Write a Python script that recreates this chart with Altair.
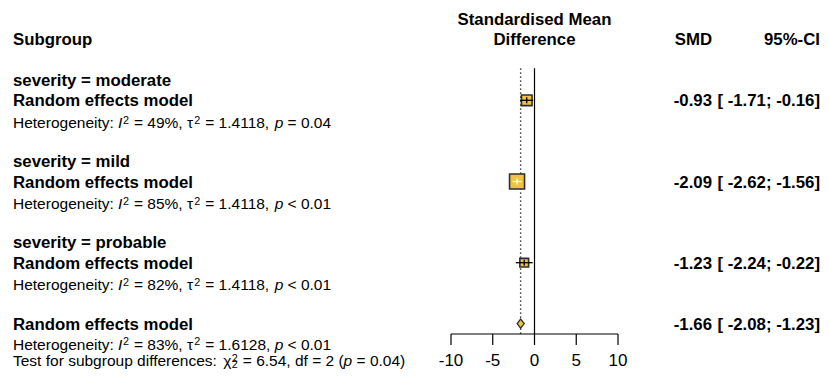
import altair as alt
import pandas as pd

# ---------------- data ----------------
subgroups = ["severity = moderate", "severity = mild", "severity = probable"]
smd = [-0.93, -2.09, -1.23]
ci_lower = [-1.71, -2.62, -2.24]
ci_upper = [-0.16, -1.56, -0.22]
weights = [0.50, 1.0, 0.34]          # relative weight -> square area
i2 = ["49%", "85%", "82%"]
tau2 = ["1.4118", "1.4118", "1.4118"]
pval = ["= 0.04", "< 0.01", "< 0.01"]

overall_smd = -1.66
overall_lower = -2.08
overall_upper = -1.23
overall_i2 = "83%"
overall_tau2 = "1.6128"
overall_p = "< 0.01"
test_chi2 = "6.54"
test_df = "2"
test_p = "= 0.04"

axis_ticks = [-10, -5, 0, 5, 10]

# ---------------- layout ----------------
GOLD = "#F0C43C"
EDGE = "#2e2e2e"
BOLD = 16.8
REG = 15.5
SCRIPT = 10.8
FONT = "Liberation Sans"
ROWPX = 20.3
SUP_RAISE_T = 4.6
SUB_DROP_T = 1.6

X = alt.Scale(domain=[-10, 10], range=[443, 610])
Y = alt.Scale(domain=[0, 14], range=[72, 72 + 14 * ROWPX])


def xq(f):
    return alt.X(f, type="quantitative", scale=X, axis=None)


def yq(f):
    return alt.Y(f, type="quantitative", scale=Y, axis=None)


def off(px):
    return px / ROWPX


n = len(subgroups)
sub = pd.DataFrame({
    "name": subgroups,
    "smd": smd,
    "lo": ci_lower,
    "hi": ci_upper,
    "w": weights,
    "row": [4 * i + 1 for i in range(n)],
})
sub["tlo"] = sub["row"] - 0.15
sub["thi"] = sub["row"] + 0.15
# CI line drawn white when it lies inside the square (as in meta::forest)
side_units = (sub["w"] * 225) ** 0.5 / (167 / 20)
sub["lc"] = ((sub["hi"] - sub["lo"]) < side_units).map({True: "white", False: "black"})

axis_top = (334 - 80) / ROWPX
axis_tick_end = (345 - 80) / ROWPX
axis_label_base = (366.2 - 80) / ROWPX
line_top = (68.3 - 80) / ROWPX

zero_line = alt.Chart(pd.DataFrame({"x": [0.0], "y": [line_top], "y2": [axis_top]})).mark_rule(
    color="black", strokeWidth=1.2).encode(x=xq("x"), y=yq("y"), y2="y2")
overall_line = alt.Chart(pd.DataFrame({"x": [overall_smd], "y": [line_top], "y2": [axis_top]})).mark_rule(
    color="#555555", strokeWidth=1.4, strokeDash=[1.6, 2.4]).encode(x=xq("x"), y=yq("y"), y2="y2")

squares = alt.Chart(sub).mark_square(fill=GOLD, stroke=EDGE, strokeWidth=1.6, opacity=1).encode(
    x=xq("smd"), y=yq("row"),
    size=alt.Size("w", type="quantitative", scale=alt.Scale(domain=[0, 1], range=[0, 225]), legend=None))

ci_lines = alt.Chart(sub).mark_rule(strokeWidth=1.3).encode(
    x=xq("lo"), x2="hi", y=yq("row"), color=alt.Color("lc", type="nominal", scale=None))
ci_ticks = alt.Chart(sub).mark_rule(strokeWidth=1.3).encode(
    x=xq("smd"), y=yq("tlo"), y2="thi", color=alt.Color("lc", type="nominal", scale=None))

dia = pd.DataFrame({
    "x": [overall_lower, overall_smd, overall_upper],
    "y": [12, 12 - off(4.6), 12],
    "y2": [12, 12 + off(4.6), 12],
})
diamond = alt.Chart(dia).mark_area(orient="vertical", fill=GOLD, stroke=EDGE, strokeWidth=1.3).encode(
    x=xq("x"), y=yq("y"), y2="y2")

# axis
ax_line = alt.Chart(pd.DataFrame({"a": [min(axis_ticks)], "b": [max(axis_ticks)], "y": [axis_top]})).mark_rule(
    color="black", strokeWidth=1.2).encode(x=xq("a"), x2="b", y=yq("y"))
tick_df = pd.DataFrame({"t": axis_ticks, "y": [axis_top] * 5, "y2": [axis_tick_end] * 5,
                        "ly": [axis_label_base] * 5, "lab": [str(t) for t in axis_ticks]})
ax_ticks = alt.Chart(tick_df).mark_rule(color="black", strokeWidth=1.2).encode(
    x=xq("t"), y=yq("y"), y2="y2")
ax_labels = alt.Chart(tick_df).mark_text(font=FONT, fontSize=17, align="center", baseline="alphabetic",
                                         color="black").encode(x=xq("t"), y=yq("ly"), text="lab")

# ---------------- bold left text ----------------
lb_rows, lb_txt = [], []
for i in range(n):
    lb_rows += [4 * i, 4 * i + 1]
    lb_txt += [subgroups[i], "Random effects model"]
lb_rows += [12, -2]
lb_txt += ["Random effects model", "Subgroup"]
lbdf = pd.DataFrame({"t": lb_txt, "row": lb_rows})
lbdf["yb"] = lbdf["row"] + off(6)
lb = alt.Chart(lbdf).mark_text(
    font=FONT, fontSize=BOLD, fontWeight="bold", align="left", baseline="alphabetic", color="black").encode(
    x=alt.value(5), y=yq("yb"), text="t")

# ---------------- statistics lines with italics / super- & subscripts ----------------
AW = {' ': 278, '%': 889, '(': 333, ')': 333, ',': 278, '-': 333, '.': 278, ':': 278, '<': 584, '=': 584,
      'H': 722, 'T': 611, 'I': 278, 'a': 556, 'b': 556, 'c': 500, 'd': 556, 'e': 556, 'f': 278, 'g': 556,
      'h': 556, 'i': 222, 'l': 222, 'm': 833, 'n': 556, 'o': 556, 'p': 556, 'r': 333, 's': 500, 't': 278,
      'u': 556, 'y': 500, '\u03c4': 440, '\u03c7': 520}


def tw(s, size):
    return sum(AW.get(c, 556) for c in s) * size / 1000.0


pieces = []   # text, x (px), baseline (row units), style
stacked = []  # (sup, sub) pairs drawn as one two-line text


def add_line(row, base_px, parts, sup_raise):
    x = 5.0
    yb = row + off(base_px)
    for txt, style in parts:
        if style in ("n", "i"):
            body = txt.lstrip(" ")
            lead = tw(txt[: len(txt) - len(body)], REG)
            pieces.append((body.rstrip(" "), x + lead, yb, style))
            x += tw(txt, REG)
        elif style == "sup":
            pieces.append((txt, x + 0.6, yb - off(sup_raise), "s"))
            x += tw(txt, SCRIPT) + 1.2
        elif style == "subsup":
            stacked.append(([txt[0], txt[1]], x + 0.6, yb - off(sup_raise)))
            x += tw(txt[0], SCRIPT) + 1.2


def het_parts(a, b, c):
    return [("Heterogeneity: ", "n"), ("I", "i"), ("2", "sup"), (f" = {a}, ", "n"), ("\u03c4", "n"),
            ("2", "sup"), (f" = {b}, ", "n"), ("p", "i"), (f" {c}", "n")]


for i in range(n):
    add_line(4 * i + 2, 7.4, het_parts(i2[i], tau2[i], pval[i]), 4.4)
add_line(13, 5.8, het_parts(overall_i2, overall_tau2, overall_p), 4.4)
add_line(14, 2.2, [("Test for subgroup differences: ", "n"), ("\u03c7", "n"), (("2", "2"), "subsup"),
                   (f" = {test_chi2}, df = {test_df} (", "n"), ("p", "i"), (f" {test_p})", "n")], SUP_RAISE_T)

pdf = pd.DataFrame(pieces, columns=["t", "px", "yb", "style"])


def piece_layer(style, size, fstyle):
    d = pdf[pdf["style"] == style]
    return alt.Chart(d).mark_text(font=FONT, fontSize=size, fontStyle=fstyle, align="left",
                                  baseline="alphabetic", color="black").encode(
        x=alt.X("px", type="quantitative", scale=None, axis=None), y=yq("yb"), text="t")


lr_norm = piece_layer("n", REG, "normal")
lr_ital = piece_layer("i", REG, "italic")
lr_scr = piece_layer("s", SCRIPT, "normal")

stk = alt.Chart(alt.Data(values=[{"t": t, "px": px, "yb": yb} for t, px, yb in stacked])).mark_text(
    font=FONT, fontSize=SCRIPT, align="left", baseline="alphabetic", color="black",
    lineHeight=SUP_RAISE_T + SUB_DROP_T).encode(
    x=alt.X("px", type="quantitative", scale=None, axis=None), y=yq("yb"),
    text=alt.Text("t", type="nominal"))

# ---------------- header above the plot ----------------
hdf = pd.DataFrame({"t": ["Standardised Mean", "Difference"], "row": [-3, -2], "x": [0, 0]})
hdf["yb"] = hdf["row"] + off(6)
hdr = alt.Chart(hdf).mark_text(
    font=FONT, fontSize=BOLD, fontWeight="bold", align="center", baseline="alphabetic", color="black").encode(
    x=xq("x"), y=yq("yb"), text="t")

# ---------------- right columns ----------------
smd_txt = [f"{v:.2f}" for v in smd] + [f"{overall_smd:.2f}", "SMD"]
ci_txt = [f"[{a:6.2f}; {b:5.2f}]" for a, b in zip(ci_lower, ci_upper)] + \
         [f"[{overall_lower:6.2f}; {overall_upper:5.2f}]", "95%-CI"]
rrows = [4 * i + 1 for i in range(n)] + [12, -2]
rdf = pd.DataFrame({"s": smd_txt, "c": ci_txt, "row": rrows})
rdf["yb"] = rdf["row"] + off(6)
smd_col = alt.Chart(rdf).mark_text(font=FONT, fontSize=BOLD, fontWeight="bold", align="right",
                                   baseline="alphabetic", color="black").encode(
    x=alt.value(704), y=yq("yb"), text="s")
ci_col = alt.Chart(rdf).mark_text(font=FONT, fontSize=BOLD, fontWeight="bold", align="right",
                                  baseline="alphabetic", color="black").encode(
    x=alt.value(812), y=yq("yb"), text="c")

chart = alt.layer(
    overall_line, zero_line, squares, ci_lines, ci_ticks, diamond,
    ax_line, ax_ticks, ax_labels, lb, lr_norm, lr_ital, lr_scr, stk, hdr, smd_col, ci_col
).properties(
    width=813, height=362, padding=0, autosize=alt.AutoSizeParams(type="none"), background="white"
).configure_view(stroke=None)

chart.save("out.html", embed_options={"renderer": "svg", "actions": False})
